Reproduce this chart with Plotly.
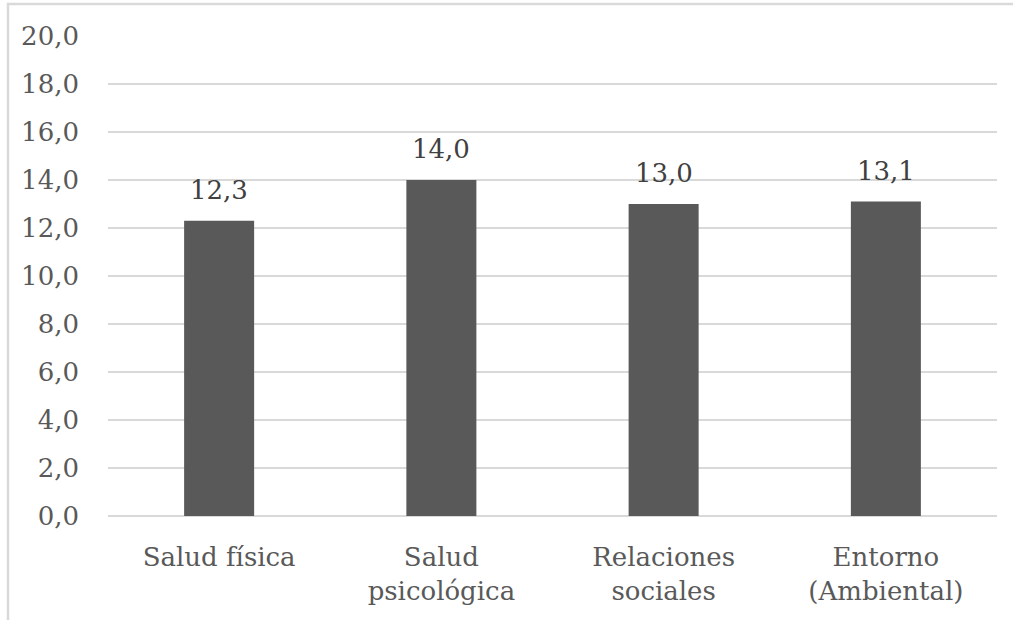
import plotly.graph_objects as go

categories = ["Salud física", "Salud<br>psicológica", "Relaciones<br>sociales", "Entorno<br>(Ambiental)"]
values = [12.3, 14.0, 13.0, 13.1]
y_ticks = [0, 2, 4, 6, 8, 10, 12, 14, 16, 18, 20]

SERIF = "DejaVu Serif"
FS = 26

W, H = 1013, 620
ml, mr, mt, mb = 108, 16, 36, 104
pw, ph = W - ml - mr, H - mt - mb

fig = go.Figure(
    go.Bar(
        x=categories,
        y=values,
        marker=dict(color="#595959", line=dict(width=0)),
        hoverinfo="x+y",
    )
)

# value labels above each bar
for cat, val in zip(categories, values):
    fig.add_annotation(
        x=cat, y=val, text=f"{val:.1f}".replace(".", ","),
        showarrow=False, yanchor="bottom", yshift=14,
        font=dict(family=SERIF, size=FS, color="#404040"),
    )

# chart-area frame (left and top edges)
fig.add_shape(
    type="rect", xref="paper", yref="paper",
    x0=(8 - ml) / pw, x1=(W + 5 - ml) / pw,
    y0=-(mb + 10) / ph, y1=1 + (mt - 4) / ph,
    line=dict(color="#d9d9d9", width=2.5), fillcolor="rgba(0,0,0,0)", layer="below",
)

fig.update_layout(
    width=W, height=H,
    margin=dict(l=ml, r=mr, t=mt, b=mb, pad=0, autoexpand=False),
    paper_bgcolor="white", plot_bgcolor="white",
    separators=",.",
    bargap=0.685,
    showlegend=False,
    font=dict(family=SERIF, size=FS, color="#595959"),
    xaxis=dict(
        showgrid=False, showline=False, ticks="", zeroline=False,
        automargin=False, ticklabelstandoff=23,
        tickfont=dict(family=SERIF, size=FS, color="#595959"),
    ),
    yaxis=dict(
        range=[0, 20], tickvals=y_ticks, tickformat=".1f",
        showgrid=True, gridcolor="#d9d9d9", gridwidth=1.5,
        zeroline=True, zerolinecolor="#d9d9d9", zerolinewidth=1.5,
        showline=False, ticks="", automargin=False, ticklabelstandoff=28,
        tickfont=dict(family=SERIF, size=FS, color="#595959"),
    ),
)

fig.write_html("out.html")
